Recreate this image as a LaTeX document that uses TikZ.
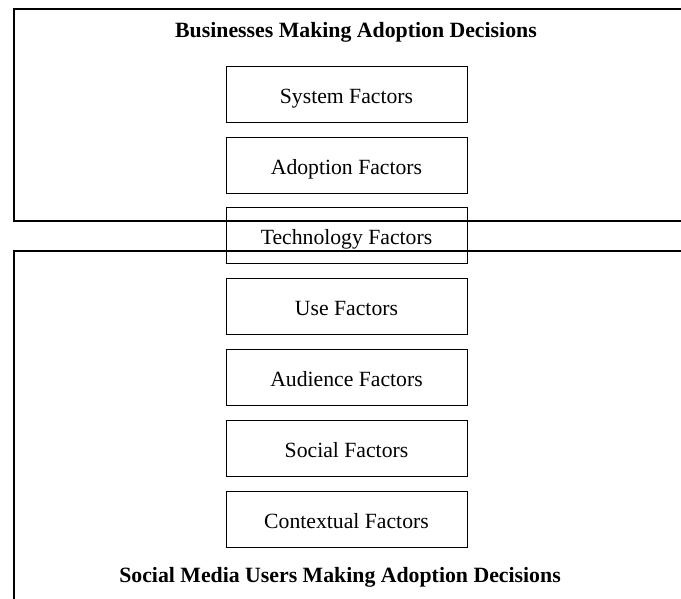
\documentclass[tikz,border=0pt]{standalone}
\usepackage{fontspec}
\setmainfont{Liberation Serif}
\begin{document}
\begin{tikzpicture}[x=1pt,y=-1pt,
  factorbox/.style={draw=black, line width=1pt, minimum width=241pt, minimum height=56pt,
    inner sep=0pt, text height=18pt, text depth=0pt, font=\fontsize{21.7}{24}\selectfont},
  title/.style={font=\fontsize{21.8}{24}\selectfont\bfseries, inner sep=0pt},
  region/.style={draw=black, line width=1.1pt}]
\useasboundingbox (0,0) rectangle (681,598);
% the two decision regions, open on the right and at the bottom
\draw[region] (700,9) -- (14,9) -- (14,221) -- (700,221);
\draw[region] (700,251) -- (14,251) -- (14,620);
\node[title] (toptitle) at (356,32) {Businesses Making Adoption Decisions};
\node[title] (bottitle) at (340,577) {Social Media Users Making Adoption Decisions};
% factor boxes
\node[factorbox] (sys) at (346.5,94) {System Factors};
\node[factorbox] (adop) at (346.5,165) {Adoption Factors};
\node[factorbox] (tech) at (346.5,235) {Technology Factors};
\node[factorbox] (use) at (346.5,306) {Use Factors};
\node[factorbox] (aud) at (346.5,377.5) {Audience Factors};
\node[factorbox] (soc) at (346.5,448.5) {Social Factors};
\node[factorbox] (ctx) at (346.5,519.5) {Contextual Factors};
\end{tikzpicture}
\end{document}
